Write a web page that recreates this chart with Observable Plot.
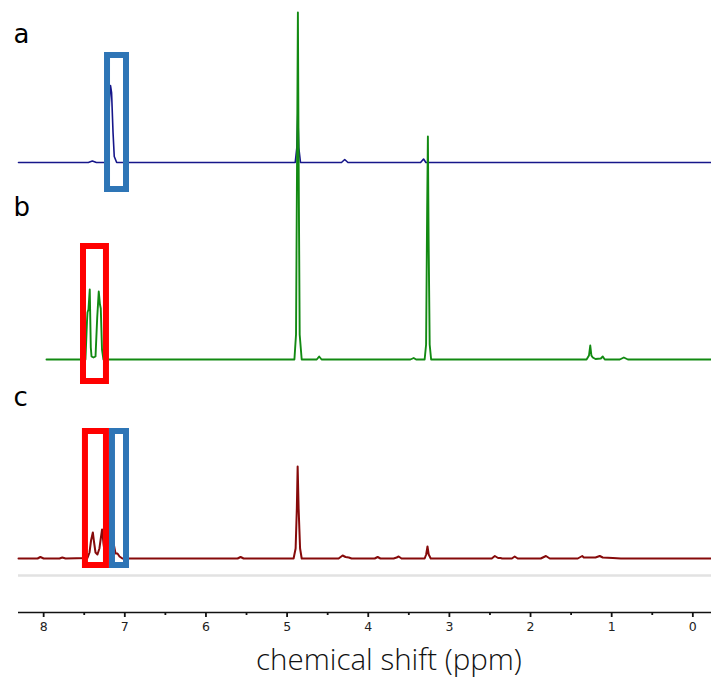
<!DOCTYPE html>
<html><head><meta charset="utf-8">
<script src="https://cdn.jsdelivr.net/npm/d3@7"></script>
<script src="https://cdn.jsdelivr.net/npm/@observablehq/plot@0.6"></script>
<style>
body{margin:0;background:#fff}
#chart svg{display:block}
</style>
</head><body><div id="chart"></div>
<script>
// ---- data ----
const traceNames = ["a", "b", "c"];
const traceOffsets = [450, 253, 54];

const aShift =     [8.31, 7.45, 7.40, 7.35, 7.215, 7.19, 7.176, 7.163, 7.145, 7.13, 7.10, 4.90, 4.88, 4.868, 4.856, 4.835, 4.33, 4.29, 4.25, 3.355, 3.318, 3.29, -0.23];
const aIntensity = [0,    0,    1.5,  0,    0,     60,   77,    70,    30,    6,    0,    0,    15,    49,    15,    0,    0,    3,    0,    0,     3.5,   0,    0];

const bShift =     [7.965, 7.485, 7.466, 7.46, 7.448, 7.432, 7.419, 7.41, 7.386, 7.361, 7.34, 7.321, 7.306, 7.296, 7.281, 7.263,
                    4.91, 4.89, 4.877, 4.867, 4.858, 4.845, 4.82, 4.635, 4.605, 4.575, 3.48, 3.44, 3.41,
                    3.305, 3.287, 3.274, 3.265, 3.256, 3.243, 3.225,
                    1.31, 1.28, 1.264, 1.25, 1.233, 1.2, 1.134, 1.11, 1.085, 0.9, 0.85, 0.80, -0.23];
const bIntensity = [0, 0, 38, 47, 50, 70, 12, 3, 2, 3, 42, 68, 55, 51, 10, 0,
                    0, 25, 200, 347, 200, 25, 0, 0, 3, 0, 0, 1.5, 0,
                    0, 15, 150, 223, 120, 15, 0,
                    0, 4, 14, 4, 2, 0.5, 1, 3, 0, 0, 2, 0, 0];

const cShift =     [8.31, 8.075, 8.04, 8.0, 7.805, 7.77, 7.73, 7.46, 7.435, 7.416, 7.394, 7.38, 7.361, 7.337, 7.313, 7.296, 7.28, 7.263, 7.245, 7.226,
                    7.20, 7.19, 7.176, 7.163, 7.15, 7.138, 7.114, 7.09, 7.065, 7.03,
                    5.61, 5.573, 5.536, 4.92, 4.895, 4.88, 4.87, 4.858, 4.84, 4.82,
                    4.365, 4.316, 4.28, 4.24, 4.205, 3.92, 3.884, 3.85, 3.687, 3.65, 3.625, 3.59,
                    3.305, 3.286, 3.27, 3.255, 3.23, 2.478, 2.44, 2.40, 2.37, 2.35, 2.23, 2.195, 2.158,
                    1.874, 1.81, 1.763, 1.418, 1.363, 1.344, 1.2, 1.147, 1.11, 0.986, 0.888, -0.23];
const cIntensity = [0, 0, 1.5, 0, 0, 1, 0, 0.5, 6, 18, 26, 17, 6, 4, 10, 20, 29, 15, 5, 3,
                    20, 60, 82, 70, 40, 15, 5, 5, 2, 0,
                    0, 1.5, 0, 0, 10, 50, 92, 50, 10, 0,
                    0, 3, 1.5, 1, 0, 0, 1.5, 0, 0, 1, 2, 0,
                    0, 4, 12, 4, 0, 0, 2.5, 0.5, 0.5, 0, 0, 2, 0,
                    0, 2.5, 0, 0, 2.5, 1, 1, 2.5, 1, 0.5, 0, 0];

const majorTicks = [8, 7, 6, 5, 4, 3, 2, 1, 0];
const minorTicks = [7.5, 6.5, 5.5, 4.5, 3.5, 2.5, 1.5, 0.5];
const axisTitle = "chemical shift (ppm)";

// highlight boxes (ppm range, intensity range relative to the trace baseline)
const boxTrace    = ["a", "b", "c", "c"];
const boxCompound = ["a", "b", "b", "a"];
const boxFrom     = [7.213, 7.509, 7.485, 7.152];
const boxTo       = [6.979, 7.226, 7.226, 6.979];
const boxLow      = [-27, -22, -7, -7];
const boxHigh     = [107, 113, 127, 127];

// ---- layout / style ----
const traceColors = {a: "#16168a", b: "#128a12", c: "#860a0a"};
const traceWidths = {a: 1.6, b: 1.9, c: 2};
const boxColors = {a: "#2e75b6", b: "#ff0000"};
const labelLevels = [578, 405, 215];
const separatorLevel = 37;

const spectra = traceNames.flatMap((t, i) => {
  const s = [aShift, bShift, cShift][i], v = [aIntensity, bIntensity, cIntensity][i];
  return s.map((p, j) => ({trace: t, ppm: p, y: v[j] + traceOffsets[i]}));
});
const boxes = boxTrace.map((t, i) => {
  const off = traceOffsets[traceNames.indexOf(t)];
  return {compound: boxCompound[i], from: boxFrom[i], to: boxTo[i], low: off + boxLow[i], high: off + boxHigh[i]};
});
const labels = traceNames.map((t, i) => ({text: t, y: labelLevels[i]}));

const chart = Plot.plot({
  width: 711, height: 679,
  marginLeft: 18, marginRight: 0, marginTop: 0, marginBottom: 67,
  x: {domain: [8.31, -0.23], label: null},
  y: {domain: [0, 612], axis: null},
  style: {fontFamily: "DejaVu Sans", background: "white", overflow: "visible"},
  marks: [
    Plot.ruleY([separatorLevel], {stroke: "#e2e2e2", strokeWidth: 2.5}),
    ...traceNames.map(t => Plot.line(spectra.filter(d => d.trace === t), {
      x: "ppm", y: "y", stroke: traceColors[t], strokeWidth: traceWidths[t], strokeLinejoin: "round"
    })),
    ...Object.keys(boxColors).map(k => Plot.rect(boxes.filter(d => d.compound === k), {
      x1: "from", x2: "to", y1: "low", y2: "high", fill: "none", stroke: boxColors[k], strokeWidth: 6
    })),
    Plot.text(labels, {text: "text", y: "y", frameAnchor: "left", dx: -5, textAnchor: "start",
      fontSize: 26, fill: "#000", fontFamily: "DejaVu Sans"}),
    Plot.ruleY([0], {stroke: "#111", strokeWidth: 1.6}),
    Plot.axisX(majorTicks, {tickSize: 5, tickPadding: 5, fontSize: 12.5, stroke: "#111", strokeWidth: 1.8,
      color: "#222", label: null, tickFormat: d => String(d)}),
    Plot.axisX(minorTicks, {tickSize: 3, stroke: "#111", strokeWidth: 1.8, label: null, tickFormat: () => ""}),
    Plot.text([axisTitle], {frameAnchor: "bottom", dy: 48, dx: 24, lineAnchor: "middle",
      fontSize: 29.5, fontFamily: "Open Sans", fontWeight: 300, fill: "#111"})
  ]
});
document.getElementById("chart").append(chart);
</script>
</body></html>
